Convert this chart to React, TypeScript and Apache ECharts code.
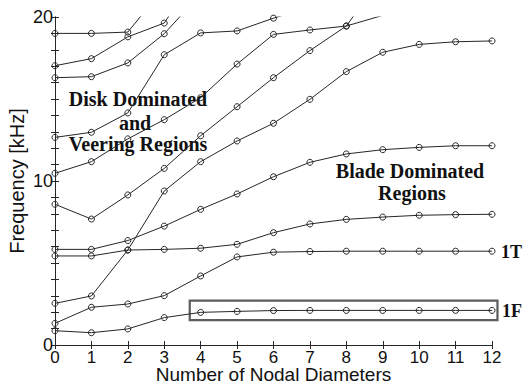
import React, { useEffect, useRef } from "react";
import * as echarts from "echarts";

// Nodal diameter index on the horizontal axis
const nodalDiameters = [0, 1, 2, 3, 4, 5, 6, 7, 8, 9, 10, 11, 12];

// Natural frequencies [kHz] of each mode family, one value per nodal diameter.
// Families that leave the plotted range stop after their first point above 20 kHz.
const family1 = [19.0, 19.0, 19.08, 21.8];
const family2 = [17.03, 17.46, 18.79, 19.63, 23.0];
const family3 = [16.3, 16.36, 17.2, 18.98, 21.4];
const family4 = [12.66, 12.97, 14.15, 17.7, 19.03, 19.15, 19.93, 20.6];
const family5 = [10.47, 11.18, 12.57, 13.74, 15.08, 17.13, 18.94, 19.21, 19.45, 20.1];
const family6 = [8.58, 7.68, 9.15, 10.77, 12.76, 14.53, 16.3, 17.95, 19.45, 22.5];
const family7 = [5.83, 5.83, 6.37, 7.25, 8.27, 9.21, 10.26, 11.14, 11.65, 11.91, 12.05, 12.15, 12.15];
const family8 = [5.43, 5.43, 5.79, 5.83, 5.9, 6.14, 6.85, 7.38, 7.66, 7.8, 7.91, 7.95, 7.97];
const family9 = [2.54, 2.99, 5.79, 9.39, 11.18, 12.44, 13.52, 14.98, 16.67, 17.85, 18.33, 18.49, 18.54];
const firstTorsion = [1.32, 2.3, 2.5, 3.01, 4.21, 5.37, 5.66, 5.7, 5.72, 5.72, 5.72, 5.72, 5.72];
const firstFlex = [0.87, 0.75, 0.98, 1.67, 1.99, 2.05, 2.1, 2.11, 2.11, 2.11, 2.11, 2.11, 2.11];

const families = [
  family1, family2, family3, family4, family5, family6,
  family7, family8, family9, firstTorsion, firstFlex,
];

// Labelled frequency ticks (minor ticks every 1 kHz carry no label)
const yTickLabels = [0, 10, 20];

// Extent of the box drawn around the 1F family, in axis units
const flexBoxX = [3.7, 12.15];
const flexBoxY = [1.52, 2.7];

const ink = "#262626";
const sans = "'Liberation Sans', Arial, Helvetica, sans-serif";
const serif = "'Liberation Serif', 'Times New Roman', serif";

export default function App() {
  const ref = useRef<HTMLDivElement>(null);

  useEffect(() => {
    if (!ref.current) return;
    const chart = echarts.init(ref.current, null, { renderer: "svg" });

    const axisLine = { show: true, lineStyle: { color: ink, width: 1 } };
    const axisTick = { show: true, inside: true, length: 4, lineStyle: { color: ink, width: 1 } };

    const series = families.map((vals) => ({
      type: "line",
      data: vals.map((v, i) => [nodalDiameters[i], v]),
      symbol: "circle",
      symbolSize: 6,
      showSymbol: true,
      clip: true,
      lineStyle: { color: ink, width: 1 },
      itemStyle: { color: "rgba(0,0,0,0)", borderColor: ink, borderWidth: 1 },
      emphasis: { disabled: true },
    }));

    const option: any = {
      animation: false,
      backgroundColor: "#ffffff",
      grid: {
        left: 55,
        right: 31,
        top: 17,
        bottom: 40,
        containLabel: false,
        outerBoundsMode: "none",
      },
      xAxis: [
        {
          type: "value",
          position: "bottom",
          min: 0,
          max: 12,
          interval: 1,
          axisLine,
          axisTick,
          splitLine: { show: false },
          axisLabel: {
            color: "#111",
            fontSize: 17,
            lineHeight: 13,
            fontFamily: sans,
            margin: 6,
          },
          name: "Number of Nodal Diameters",
          nameLocation: "middle",
          nameGap: 21,
          nameMoveOverlap: false,
          nameTextStyle: { color: "#111", fontSize: 19, lineHeight: 16, fontFamily: sans },
        },
        {
          type: "value",
          position: "top",
          min: 0,
          max: 12,
          interval: 1,
          axisLine,
          axisTick,
          splitLine: { show: false },
          axisLabel: { show: false },
        },
      ],
      yAxis: [
        {
          type: "value",
          position: "left",
          min: 0,
          max: 20,
          interval: 1,
          axisLine,
          axisTick,
          splitLine: { show: false },
          axisLabel: {
            color: "#111",
            fontSize: 18,
            fontFamily: sans,
            margin: 2,
            formatter: (v: number) => (yTickLabels.includes(v) ? String(v) : ""),
          },
          name: "Frequency [kHz]",
          nameLocation: "middle",
          nameGap: 28,
          nameMoveOverlap: false,
          nameTextStyle: { color: "#111", fontSize: 20, fontFamily: sans },
        },
        {
          type: "value",
          position: "right",
          min: 0,
          max: 20,
          interval: 1,
          axisLine,
          axisTick,
          splitLine: { show: false },
          axisLabel: { show: false },
        },
      ],
      series,
    };

    chart.setOption(option);

    const p1 = chart.convertToPixel({ gridIndex: 0 }, [flexBoxX[0], flexBoxY[1]]) as number[];
    const p2 = chart.convertToPixel({ gridIndex: 0 }, [flexBoxX[1], flexBoxY[0]]) as number[];

    const label = (text: string, x: number, y: number, size: number, align = "center") => ({
      type: "text",
      x,
      y,
      silent: true,
      style: {
        text,
        fill: "#111",
        font: `bold ${size}px ${serif}`,
        align,
        verticalAlign: "middle",
      },
    });

    chart.setOption({
      graphic: [
        {
          type: "rect",
          silent: true,
          shape: { x: p1[0], y: p1[1], width: p2[0] - p1[0], height: p2[1] - p1[1] },
          style: { fill: "none", stroke: "#5c5c5c", lineWidth: 2.2 },
        },
        label("Disk Dominated", 138, 99, 20),
        label("and", 135, 122.5, 20),
        label("Veering Regions", 138, 144, 20),
        label("Blade Dominated", 410, 170.5, 20),
        label("Regions", 412, 193, 20),
        label("1T", 501, 251.5, 18, "left"),
        label("1F", 502, 310.5, 18, "left"),
      ],
    });

    return () => chart.dispose();
  }, []);

  return (
    <div
      ref={ref}
      style={{ position: "fixed", left: 0, top: 0, width: 523, height: 385, background: "#fff" }}
    />
  );
}
